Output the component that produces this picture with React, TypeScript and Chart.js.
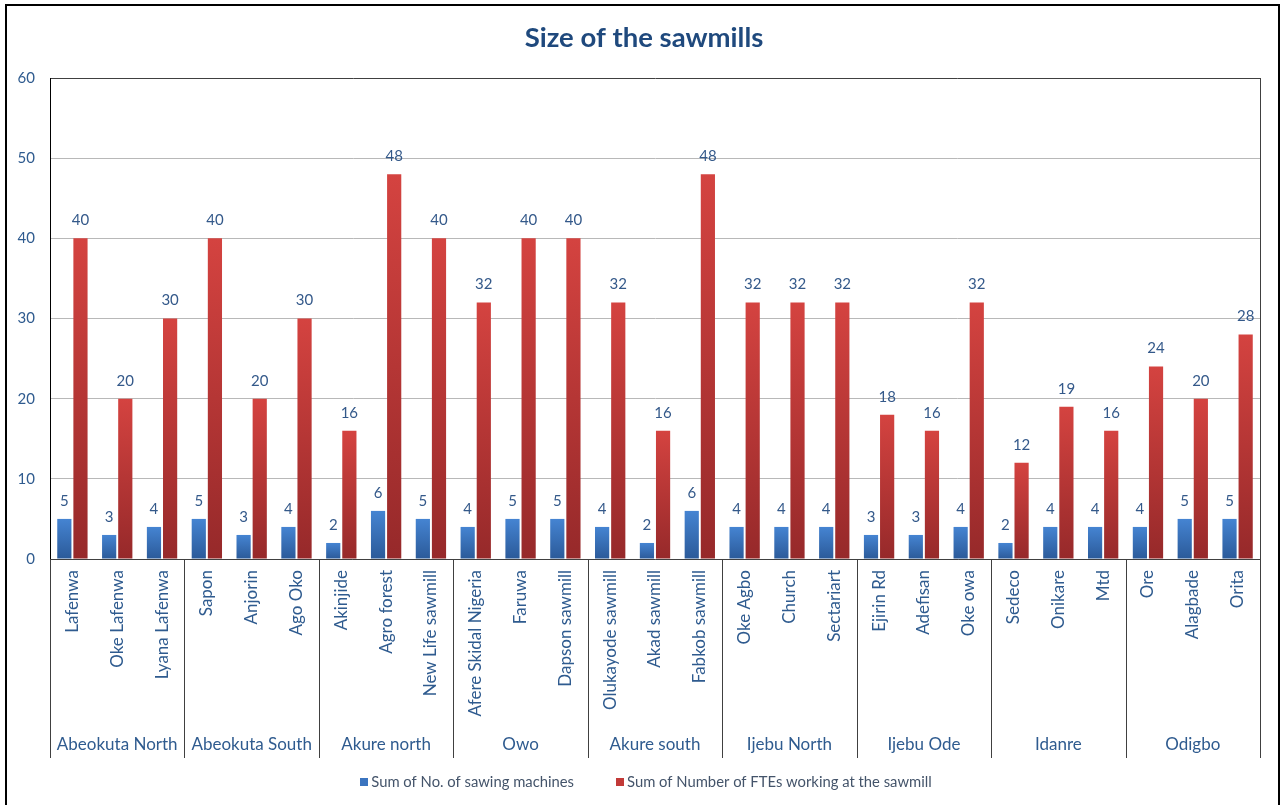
import React, { useEffect, useRef } from 'react';
import { Chart, registerables } from 'chart.js';

Chart.register(...registerables);

// Regions, each holding three sawmills in order
const regions = [
  'Abeokuta North',
  'Abeokuta South',
  'Akure north',
  'Owo',
  'Akure south',
  'Ijebu North',
  'Ijebu Ode',
  'Idanre',
  'Odigbo',
];
const millsPerRegion = [3, 3, 3, 3, 3, 3, 3, 3, 3];

const sawmills = [
  'Lafenwa', 'Oke Lafenwa', 'Lyana Lafenwa',
  'Sapon', 'Anjorin', 'Ago Oko',
  'Akinjide', 'Agro forest', 'New Life sawmill',
  'Afere Skidal Nigeria', 'Faruwa', 'Dapson sawmill',
  'Olukayode sawmill', 'Akad sawmill', 'Fabkob sawmill',
  'Oke Agbo', 'Church', 'Sectariart',
  'Ejirin Rd', 'Adefisan', 'Oke owa',
  'Sedeco', 'Onikare', 'Mtd',
  'Ore', 'Alagbade', 'Orita',
];

const sawingMachines = [
  5, 3, 4,
  5, 3, 4,
  2, 6, 5,
  4, 5, 5,
  4, 2, 6,
  4, 4, 4,
  3, 3, 4,
  2, 4, 4,
  4, 5, 5,
];

const fteWorkers = [
  40, 20, 30,
  40, 20, 30,
  16, 48, 40,
  32, 40, 40,
  32, 16, 48,
  32, 32, 32,
  18, 16, 32,
  12, 19, 16,
  24, 20, 28,
];

const yTicks = [0, 10, 20, 30, 40, 50, 60];

const TITLE = 'Size of the sawmills';
const SERIES_MACHINES = 'Sum of No. of sawing machines';
const SERIES_FTE = 'Sum of Number of FTEs working at the sawmill';

const FONT = 'Lato, "Open Sans", "DejaVu Sans", sans-serif';
const LABEL_BLUE = '#2f5b8f';
const TITLE_BLUE = '#1f497d';
const LEGEND_TEXT = '#44546a';
const GROUP_BAND_BOTTOM = 758;

// Vertical gradient for each bar: light at the top, deeper at the base
const barGradient = (top: string, bottom: string, solid: string) => (ctx: any) => {
  const chart = ctx.chart;
  if (!chart.chartArea || ctx.type !== 'data') return solid;
  const y = chart.scales.y;
  const v = ctx.parsed ? ctx.parsed.y : ctx.raw;
  const y0 = y.getPixelForValue(v);
  const y1 = y.getPixelForValue(0);
  if (!isFinite(y0) || !isFinite(y1) || y0 === y1) return solid;
  const g = chart.ctx.createLinearGradient(0, y0, 0, y1);
  g.addColorStop(0, top);
  g.addColorStop(1, bottom);
  return g;
};

const decorations = {
  id: 'sawmillDecorations',
  afterDraw(chart: any) {
    const { ctx, chartArea } = chart;
    const { left, right, top, bottom } = chartArea;
    ctx.save();

    // Outer frame
    ctx.strokeStyle = '#000';
    ctx.lineWidth = 2;
    ctx.strokeRect(6, 5, chart.width - 11, chart.height + 4);

    // Title
    ctx.fillStyle = TITLE_BLUE;
    ctx.font = `bold 27.5px ${FONT}`;
    ctx.textAlign = 'center';
    ctx.textBaseline = 'middle';
    ctx.fillText(TITLE, chart.width / 2 + 2, 38);

    // Right edge of the plot box, running down through the category band
    ctx.strokeStyle = '#404040';
    ctx.lineWidth = 1;
    ctx.beginPath();
    ctx.moveTo(Math.round(right) + 0.5, top);
    ctx.lineTo(Math.round(right) + 0.5, GROUP_BAND_BOTTOM);
    ctx.stroke();

    // Region separators and region names
    const n = sawmills.length;
    const catW = (right - left) / n;
    let idx = 0;
    ctx.font = `17px ${FONT}`;
    ctx.fillStyle = LABEL_BLUE;
    ctx.textAlign = 'center';
    ctx.textBaseline = 'middle';
    const drawSep = (i: number) => {
      const x = Math.round(left + i * catW) + 0.5;
      ctx.beginPath();
      ctx.moveTo(x, bottom);
      ctx.lineTo(x, GROUP_BAND_BOTTOM);
      ctx.stroke();
    };
    drawSep(0);
    regions.forEach((name, r) => {
      const span = millsPerRegion[r];
      const cx = left + (idx + span / 2) * catW;
      ctx.fillText(name, cx, 745);
      idx += span;
      drawSep(idx);
    });

    // Value labels above each bar
    ctx.font = `15px ${FONT}`;
    ctx.fillStyle = '#34598a';
    ctx.textAlign = 'center';
    ctx.textBaseline = 'middle';
    chart.data.datasets.forEach((ds: any, di: number) => {
      const meta = chart.getDatasetMeta(di);
      meta.data.forEach((el: any, i: number) => {
        ctx.fillText(String(ds.data[i]), el.x, el.y - 18);
      });
    });

    // Legend
    const items = [
      { text: SERIES_MACHINES, color: '#3b74bf' },
      { text: SERIES_FTE, color: '#c23a38' },
    ];
    ctx.font = `14.8px ${FONT}`;
    const box = 8;
    const gapBox = 3;
    const gapItems = 42;
    const widths = items.map((it) => box + gapBox + ctx.measureText(it.text).width);
    const total = widths[0] + gapItems + widths[1];
    let lx = chart.width / 2 + 4 - total / 2;
    const ly = 782;
    ctx.textAlign = 'left';
    items.forEach((it, i) => {
      ctx.fillStyle = it.color;
      ctx.fillRect(Math.round(lx), ly - box / 2, box, box);
      ctx.fillStyle = LEGEND_TEXT;
      ctx.fillText(it.text, lx + box + gapBox, ly);
      lx += widths[i] + gapItems;
    });

    ctx.restore();
  },
};

export default function App() {
  const canvasRef = useRef<HTMLCanvasElement | null>(null);

  useEffect(() => {
    if (!canvasRef.current) return;
    const chart = new Chart(canvasRef.current, {
      type: 'bar',
      data: {
        labels: sawmills,
        datasets: [
          {
            label: SERIES_MACHINES,
            data: sawingMachines,
            backgroundColor: barGradient('#4584d2', '#2b5a99', '#3b74bf'),
            borderWidth: 0,
            categoryPercentage: 0.72,
            barPercentage: 0.88,
          },
          {
            label: SERIES_FTE,
            data: fteWorkers,
            backgroundColor: barGradient('#d44340', '#96292a', '#c23a38'),
            borderWidth: 0,
            categoryPercentage: 0.72,
            barPercentage: 0.88,
          },
        ],
      },
      options: {
        responsive: false,
        animation: false,
        layout: { padding: { top: 78, right: 24, bottom: 805 - GROUP_BAND_BOTTOM, left: 0 } },
        plugins: {
          legend: { display: false },
          title: { display: false },
          tooltip: { enabled: false },
        },
        scales: {
          x: {
            grid: { display: false, drawTicks: false },
            border: { display: true, color: '#404040', width: 1 },
            ticks: {
              autoSkip: false,
              minRotation: 90,
              maxRotation: 90,
              padding: 11,
              color: LABEL_BLUE,
              font: { family: FONT, size: 17 },
            },
            afterFit: (scale: any) => {
              scale.height = 199;
            },
          },
          y: {
            min: yTicks[0],
            max: yTicks[yTicks.length - 1],
            afterBuildTicks: (scale: any) => {
              scale.ticks = yTicks.map((v) => ({ value: v }));
            },
            grid: {
              drawTicks: false,
              color: (c: any) => (c.tick && c.tick.value === 60 ? '#404040' : '#b8b8b8'),
              lineWidth: 1,
            },
            border: { display: true, color: '#000', width: 1 },
            ticks: {
              padding: 15,
              color: LABEL_BLUE,
              font: { family: FONT, size: 15 },
            },
            afterFit: (scale: any) => {
              scale.width = 50;
            },
          },
        },
      },
      plugins: [decorations],
    });
    return () => chart.destroy();
  }, []);

  return (
    <div style={{ position: 'fixed', left: 0, top: 0, width: 1284, height: 805, background: '#fff' }}>
      <canvas ref={canvasRef} width={1284} height={805} />
    </div>
  );
}
